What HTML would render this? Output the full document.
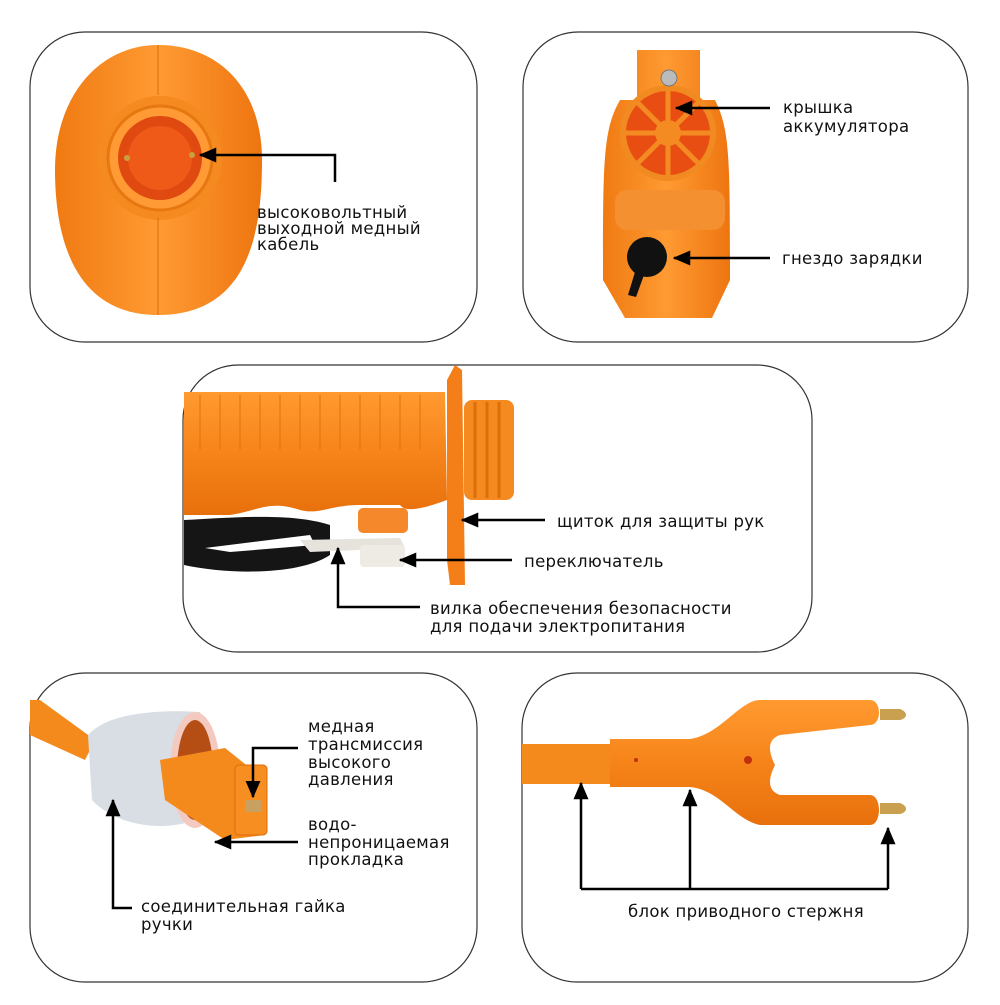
<!DOCTYPE html>
<html><head><meta charset="utf-8"><style>
body{margin:0;background:#fff;width:1000px;height:1000px;overflow:hidden}
text{font-family:"DejaVu Sans","Liberation Sans",sans-serif;font-size:16.5px;fill:#111;letter-spacing:0.3px}
</style></head><body>
<svg width="1000" height="1000" viewBox="0 0 1000 1000" xmlns="http://www.w3.org/2000/svg">
<defs>
<marker id="a" markerWidth="7" markerHeight="6" refX="6.5" refY="3" orient="auto" markerUnits="strokeWidth"><path d="M0,0 L7,3 L0,6z" fill="#000"/></marker>
<linearGradient id="og" x1="0" x2="1"><stop offset="0" stop-color="#f07a12"/><stop offset=".5" stop-color="#ff9a32"/><stop offset="1" stop-color="#ee7510"/></linearGradient>
<linearGradient id="ov" x1="0" y1="0" x2="0" y2="1"><stop offset="0" stop-color="#ff9a30"/><stop offset=".5" stop-color="#f6841a"/><stop offset="1" stop-color="#e8700c"/></linearGradient>
</defs>
<g fill="none" stroke="#333" stroke-width="1.2">
<rect x="30" y="32" width="447" height="310" rx="55"/>
<rect x="523" y="32" width="445" height="310" rx="55"/>
<rect x="183" y="365" width="629" height="287" rx="55"/>
<rect x="30" y="673" width="447" height="309" rx="55"/>
<rect x="522" y="673" width="446" height="309" rx="55"/>
</g>
<!-- panel1 -->
<path d="M158,45 C220,45 262,90 262,160 C262,230 250,315 158,315 C70,315 55,230 55,170 C55,95 100,45 158,45z" fill="url(#og)"/>
<circle cx="160" cy="158" r="62" fill="#f48a20"/>
<circle cx="160" cy="158" r="52" fill="#ff9a35" stroke="#e77710" stroke-width="3"/>
<circle cx="160" cy="158" r="42" fill="#e04a10"/>
<circle cx="160" cy="158" r="32" fill="#f05a18"/>
<line x1="158" y1="45" x2="158" y2="95" stroke="#d86c0c"/><line x1="158" y1="218" x2="158" y2="315" stroke="#d86c0c"/>
<circle cx="127" cy="158" r="3" fill="#c8a040"/><circle cx="192" cy="155" r="3" fill="#c8a040"/>
<polyline points="335,182 335,155 200,155" fill="none" stroke="#000" stroke-width="2.5" marker-end="url(#a)"/>
<text x="257" y="218">высоковольтный</text><text x="257" y="234">выходной медный</text><text x="257" y="250">кабель</text>
<!-- panel2 -->
<path d="M637,50 L700,50 L700,100 L715,100 C730,130 730,160 730,280 L712,318 L625,318 L603,280 C603,160 603,130 620,100 L637,100z" fill="url(#og)"/>
<circle cx="668" cy="133" r="48" fill="#f28a22"/>
<circle cx="668" cy="133" r="42" fill="#e84e12"/>
<g stroke="#f48a22" stroke-width="5"><line x1="626" y1="133" x2="710" y2="133"/><line x1="668" y1="91" x2="668" y2="175"/><line x1="638" y1="103" x2="698" y2="163"/><line x1="698" y1="103" x2="638" y2="163"/></g>
<circle cx="668" cy="133" r="13" fill="#f48a22"/>
<circle cx="669" cy="78" r="8" fill="#bbb" stroke="#777"/>
<rect x="615" y="190" width="110" height="40" rx="12" fill="#f49030"/>
<circle cx="647" cy="257" r="20" fill="#111"/><path d="M635,272 L628,295 L636,297 L644,275z" fill="#111"/>
<line x1="770" y1="108" x2="676" y2="108" stroke="#000" stroke-width="2.5" marker-end="url(#a)"/>
<line x1="770" y1="258" x2="674" y2="258" stroke="#000" stroke-width="2.5" marker-end="url(#a)"/>
<text x="783" y="113">крышка</text><text x="783" y="132">аккумулятора</text>
<text x="782" y="264">гнездо зарядки</text>
<!-- panel3 -->
<path d="M184,392 L445,392 L447,500 C420,510 405,512 400,505 L360,505 C330,505 320,515 300,510 C270,500 260,510 230,515 L184,515z" fill="url(#ov)"/>
<g stroke="#e8780e" stroke-width="2" opacity=".6"><line x1="200" y1="395" x2="200" y2="450"/><line x1="220" y1="395" x2="220" y2="450"/><line x1="240" y1="395" x2="240" y2="450"/><line x1="260" y1="395" x2="260" y2="450"/><line x1="280" y1="395" x2="280" y2="450"/><line x1="300" y1="395" x2="300" y2="450"/><line x1="320" y1="395" x2="320" y2="450"/><line x1="340" y1="395" x2="340" y2="450"/><line x1="360" y1="395" x2="360" y2="450"/><line x1="380" y1="395" x2="380" y2="450"/><line x1="400" y1="395" x2="400" y2="450"/><line x1="420" y1="395" x2="420" y2="450"/></g>
<rect x="464" y="400" width="50" height="100" rx="8" fill="#f58a20"/>
<g stroke="#dd6e0a" stroke-width="3"><line x1="475" y1="402" x2="475" y2="498"/><line x1="487" y1="402" x2="487" y2="498"/><line x1="499" y1="402" x2="499" y2="498"/></g>
<path d="M447,380 L455,365 L462,370 L465,585 L450,585 L447,560z" fill="#f47f18"/>
<path d="M184,520 C230,518 290,512 330,525 L330,555 C300,575 230,575 184,565z M205,548 L310,535 L315,545 L230,552z" fill="#151515" fill-rule="evenodd"/>
<rect x="358" y="508" width="50" height="25" rx="5" fill="#f5882a"/>
<path d="M300,540 L400,538 L405,548 L310,552z" fill="#e6e2dc"/>
<rect x="360" y="545" width="45" height="22" rx="4" fill="#eeeae4"/>
<line x1="545" y1="520" x2="462" y2="520" stroke="#000" stroke-width="2.5" marker-end="url(#a)"/>
<line x1="512" y1="560" x2="400" y2="560" stroke="#000" stroke-width="2.5" marker-end="url(#a)"/>
<polyline points="420,607 338,607 338,548" fill="none" stroke="#000" stroke-width="2.5" marker-end="url(#a)"/>
<text x="557" y="527">щиток для защиты рук</text>
<text x="524" y="567">переключатель</text>
<text x="430" y="614">вилка обеспечения безопасности</text><text x="430" y="632">для подачи электропитания</text>
<!-- panel4 -->
<path d="M30,700 L40,700 L95,740 L85,760 L30,735z" fill="#f58a1c"/>
<path d="M88,735 C110,710 170,710 200,712 L220,760 L215,810 C180,835 120,830 92,800z" fill="#d8dee4"/>
<ellipse cx="195" cy="770" rx="25" ry="58" fill="#f3c9c0"/>
<ellipse cx="195" cy="770" rx="18" ry="50" fill="#b54e15"/>
<path d="M160,760 L225,748 L265,780 L265,835 L225,840 L165,800z" fill="#f58a1c"/>
<rect x="235" y="765" width="32" height="70" rx="4" fill="#f78e22" stroke="#e06a0a"/>
<rect x="245" y="800" width="16" height="12" fill="#c8a060"/>
<polyline points="298,748 253,748 253,797" fill="none" stroke="#000" stroke-width="2.5" marker-end="url(#a)"/>
<line x1="298" y1="842" x2="215" y2="842" stroke="#000" stroke-width="2.5" marker-end="url(#a)"/>
<polyline points="132,908 113,908 113,800" fill="none" stroke="#000" stroke-width="2.5" marker-end="url(#a)"/>
<text x="308" y="732">медная</text><text x="308" y="750">трансмиссия</text><text x="308" y="768">высокого</text><text x="308" y="785">давления</text>
<text x="308" y="830">водо-</text><text x="308" y="848">непроницаемая</text><text x="308" y="865">прокладка</text>
<text x="141" y="912">соединительная гайка</text><text x="141" y="930">ручки</text>
<!-- panel5 -->
<rect x="522" y="744" width="90" height="40" fill="#f58a1c"/>
<path d="M610,739 L690,739 C720,735 740,700 760,700 L870,700 C882,700 882,725 870,725 L780,735 C765,740 770,755 775,765 C770,775 765,790 780,795 L870,795 C882,795 882,825 870,825 L760,825 C735,820 720,790 690,787 L610,787z" fill="url(#ov)"/>
<circle cx="748" cy="760" r="4" fill="#c0300a"/><circle cx="636" cy="760" r="2" fill="#c0300a"/>
<path d="M880,709 L900,709 C908,712 908,718 900,720 L880,720z" fill="#c9a050"/>
<path d="M880,803 L900,803 C908,806 908,812 900,814 L880,814z" fill="#c9a050"/>
<polyline points="581,889 888,889" fill="none" stroke="#000" stroke-width="2.5"/>
<line x1="581" y1="889" x2="581" y2="783" stroke="#000" stroke-width="2.5" marker-end="url(#a)"/>
<line x1="690" y1="889" x2="690" y2="790" stroke="#000" stroke-width="2.5" marker-end="url(#a)"/>
<line x1="888" y1="889" x2="888" y2="828" stroke="#000" stroke-width="2.5" marker-end="url(#a)"/>
<text x="628" y="917">блок приводного стержня</text>
</svg>
</body></html>
